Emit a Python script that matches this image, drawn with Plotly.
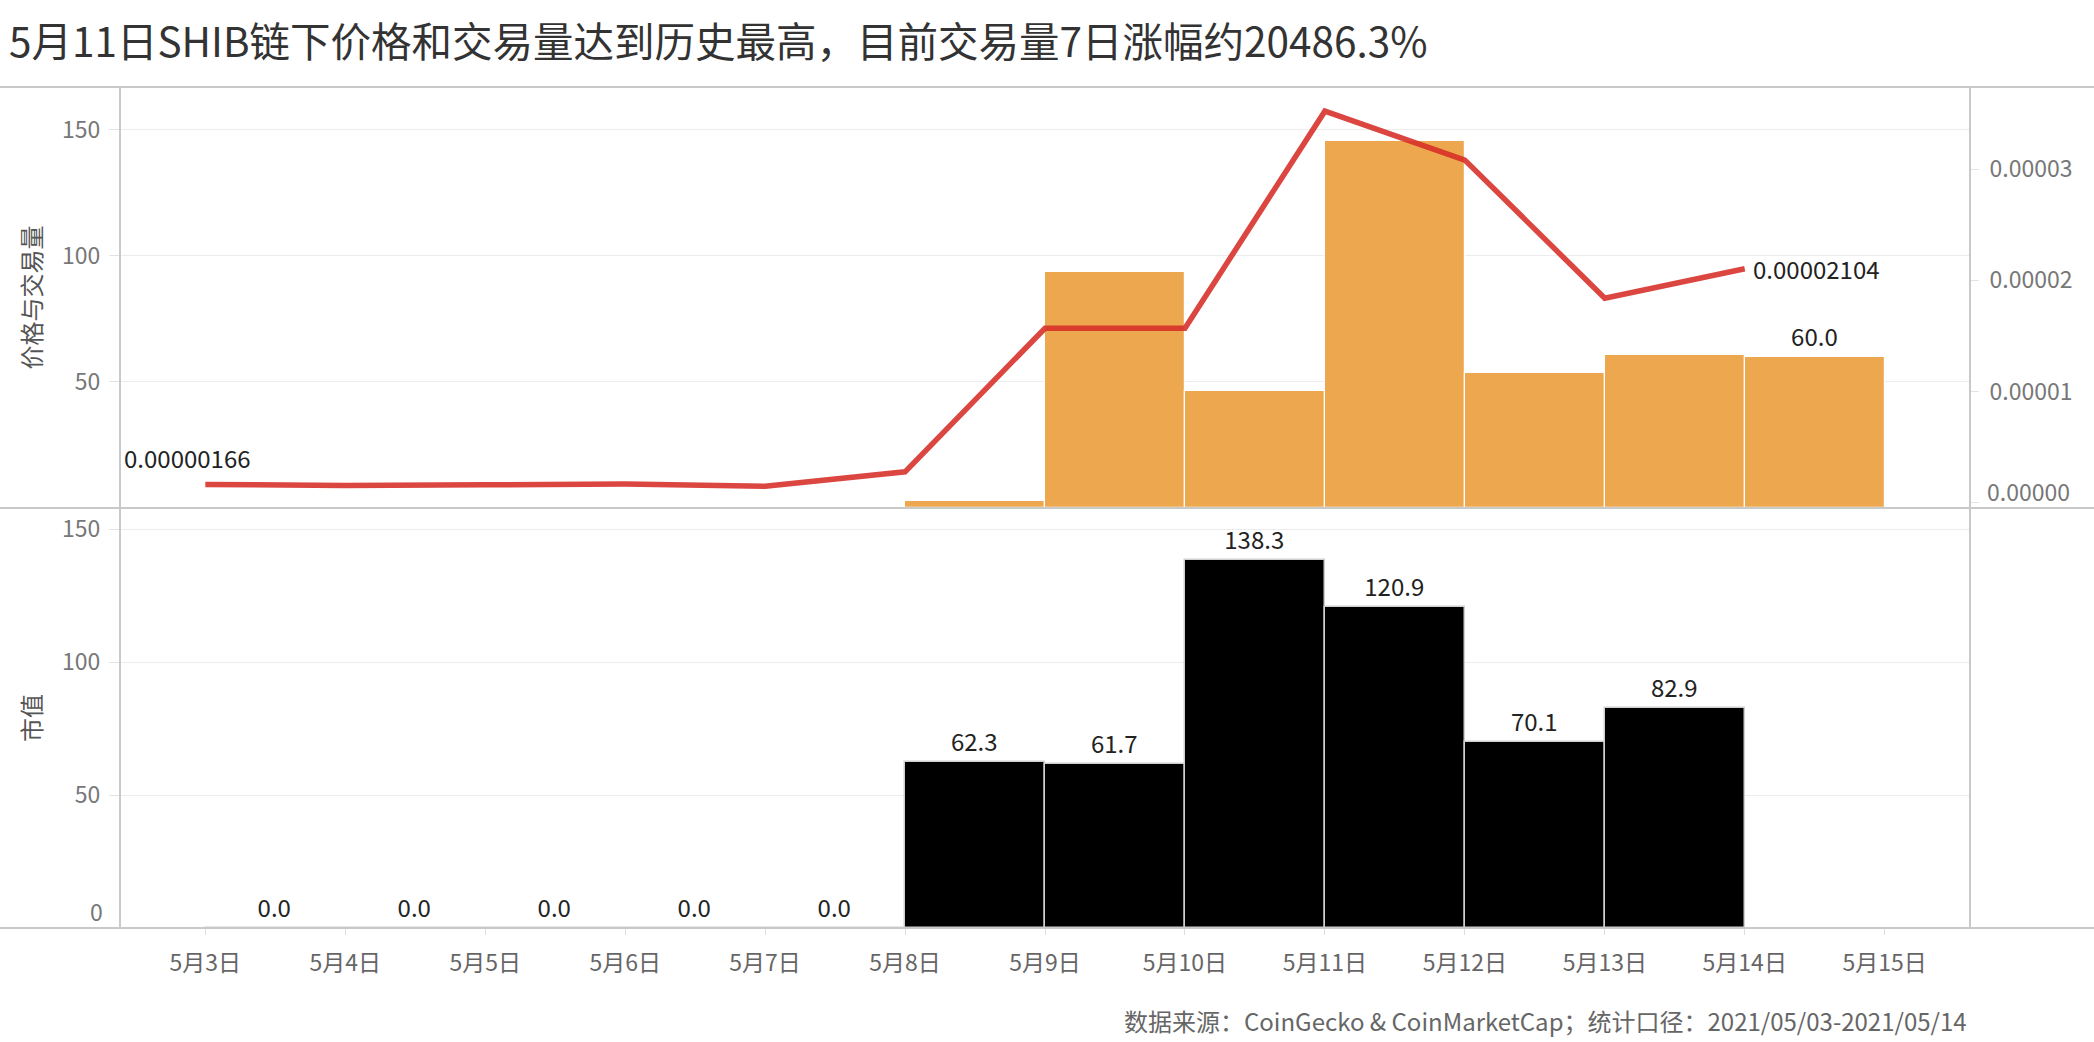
import plotly.graph_objects as go
from plotly.subplots import make_subplots

# ---- data ----
dates = ["2021-05-03", "2021-05-04", "2021-05-05", "2021-05-06", "2021-05-07", "2021-05-08",
         "2021-05-09", "2021-05-10", "2021-05-11", "2021-05-12", "2021-05-13", "2021-05-14"]
tick_dates = dates + ["2021-05-15"]
tick_labels = ["5月3日", "5月4日", "5月5日", "5月6日", "5月7日", "5月8日", "5月9日",
               "5月10日", "5月11日", "5月12日", "5月13日", "5月14日", "5月15日"]
volume = [None, None, None, None, None, 2.6, 93.5, 46.4, 145.4, 53.4, 60.6, 60.0]
volume_text = ["", "", "", "", "", "", "", "", "", "", "", "60.0"]
price = [0.00000166, 0.00000158, 0.00000163, 0.00000170, 0.00000150, 0.0000028,
         0.0000157, 0.0000157, 0.0000352, 0.0000308, 0.0000184, 0.00002104]
market_cap = [0.0, 0.0, 0.0, 0.0, 0.0, 62.3, 61.7, 138.3, 120.9, 70.1, 82.9, None]
market_cap_text = ["0.0", "0.0", "0.0", "0.0", "0.0", "62.3", "61.7", "138.3", "120.9", "70.1", "82.9", ""]

title_text = "5月11日SHIB链下价格和交易量达到历史最高，目前交易量7日涨幅约20486.3%"
footer_text = "数据来源：CoinGecko & CoinMarketCap；统计口径：2021/05/03-2021/05/14"

FONT = "Noto Sans CJK SC"
DAY_MS = 86400000
LABEL_SIZE = 24

fig = make_subplots(rows=2, cols=1, shared_xaxes=True, vertical_spacing=0,
                    specs=[[{"secondary_y": True}], [{"secondary_y": False}]])

fig.add_trace(go.Bar(
    x=dates, y=volume, width=DAY_MS, offset=0,
    marker=dict(color="#eda84f", line=dict(color="white", width=1.2)),
    text=volume_text, textposition="outside", cliponaxis=False,
    textfont=dict(family=FONT, size=LABEL_SIZE, color="#222"),
    showlegend=False, hoverinfo="skip"), row=1, col=1, secondary_y=False)

fig.add_trace(go.Scatter(
    x=dates, y=price, mode="lines",
    line=dict(color="rgba(214,44,38,0.88)", width=5.5),
    showlegend=False, hoverinfo="skip"), row=1, col=1, secondary_y=True)

fig.add_trace(go.Bar(
    x=dates, y=market_cap, width=DAY_MS, offset=0,
    marker=dict(color="black", line=dict(color="#cfcfcf", width=1.5)),
    text=market_cap_text, textposition="outside", cliponaxis=False,
    textfont=dict(family=FONT, size=LABEL_SIZE, color="#222"),
    showlegend=False, hoverinfo="skip"), row=2, col=1)

W, H = 2094, 1042
L, R, T, B = 120, 124, 87, 114
PW, PH = W - L - R, H - T - B
split = 420 / PH

xrange = ["2021-05-02 09:22", "2021-05-15 14:38"]
fig.update_xaxes(range=xrange, showgrid=False, zeroline=False, showline=False,
                 automargin=False, domain=[0, 1])
fig.update_yaxes(automargin=False)
fig.update_layout(
    xaxis=dict(showticklabels=False, ticks=""),
    xaxis2=dict(tickvals=tick_dates, ticktext=tick_labels, ticks="outside", ticklen=6,
                tickcolor="#dddddd", tickfont=dict(family=FONT, size=23, color="#666"),
                ticklabelstandoff=8),
    yaxis=dict(domain=[split, 1], range=[0, 167], tickvals=[50, 100, 150],
               showgrid=True, gridcolor="#ececec", gridwidth=1, zeroline=False,
               ticks="outside", ticklen=10, tickcolor="#e2e2e2",
               tickfont=dict(family=FONT, size=23, color="#777"), ticklabelstandoff=4),
    yaxis2=dict(range=[-4.5e-7, 3.737e-5], tickvals=[0, 1e-5, 2e-5, 3e-5],
                ticktext=["", "0.00001", "0.00002", "0.00003"],
                showgrid=False, zeroline=False, ticks="outside", ticklen=8,
                tickcolor="#e2e2e2", tickfont=dict(family=FONT, size=23, color="#777"),
                ticklabelstandoff=6),
    yaxis3=dict(domain=[0, split], range=[0, 158], tickvals=[0, 50, 100, 150],
                ticktext=["", "50", "100", "150"],
                showgrid=True, gridcolor="#ececec", gridwidth=1, zeroline=False,
                ticks="outside", ticklen=10, tickcolor="#e2e2e2",
                tickfont=dict(family=FONT, size=23, color="#777"), ticklabelstandoff=4),
)

line_col = "#c9c9c9"
x_left = -L / PW
x_right = (W - L) / PW
shapes = []
for yy in [0, split, 1]:
    shapes.append(dict(type="line", xref="paper", yref="paper", x0=x_left, x1=x_right,
                       y0=yy, y1=yy, line=dict(color=line_col, width=2), layer="above"))
for xx in [0, 1]:
    shapes.append(dict(type="line", xref="paper", yref="paper", x0=xx, x1=xx,
                       y0=0, y1=1, line=dict(color=line_col, width=2), layer="above"))

annotations = [
    dict(text="价格与交易量", xref="paper", yref="paper", x=(30 - L) / PW, y=(split + 1) / 2,
         textangle=-90, showarrow=False, xanchor="center", yanchor="middle",
         font=dict(family=FONT, size=24, color="#555")),
    dict(text="市值", xref="paper", yref="paper", x=(30 - L) / PW, y=split / 2,
         textangle=-90, showarrow=False, xanchor="center", yanchor="middle",
         font=dict(family=FONT, size=24, color="#555")),
    dict(text="0", xref="paper", yref="y3", x=0, y=0, xanchor="right", xshift=-15,
         yanchor="middle", yshift=17, showarrow=False,
         font=dict(family=FONT, size=23, color="#777")),
    dict(text="0.00000", xref="paper", yref="y2", x=1, y=0, xanchor="left", xshift=15,
         yanchor="middle", yshift=12, showarrow=False,
         font=dict(family=FONT, size=23, color="#777")),
    dict(text="0.00000166", xref="x", yref="y2", x=dates[0], y=price[0], xanchor="center",
         xshift=-18, yanchor="middle", yshift=27, showarrow=False,
         font=dict(family=FONT, size=LABEL_SIZE, color="#222")),
    dict(text="0.00002104", xref="x", yref="y2", x=dates[-1], y=price[-1], xanchor="left",
         xshift=6, yanchor="middle", showarrow=False,
         font=dict(family=FONT, size=LABEL_SIZE, color="#222")),
    dict(text=footer_text, xref="paper", yref="paper", x=(1969 - L) / PW,
         y=-(1020 - (H - B)) / PH, xanchor="right", yanchor="middle", showarrow=False,
         font=dict(family=FONT, size=24, color="#666")),
]

fig.update_layout(
    width=W, height=H,
    margin=dict(l=L, r=R, t=T, b=B, autoexpand=False),
    paper_bgcolor="white", plot_bgcolor="white",
    bargap=0,
    title=dict(text=title_text, x=9 / W, xanchor="left", xref="container",
               y=1 - 43 / H, yanchor="middle", yref="container",
               font=dict(family=FONT, size=40.5, color="#333")),
    shapes=shapes, annotations=annotations,
    font=dict(family=FONT),
)

fig.write_html("out.html", config={"displayModeBar": False},
               post_script="document.body.style.margin='0px';")
